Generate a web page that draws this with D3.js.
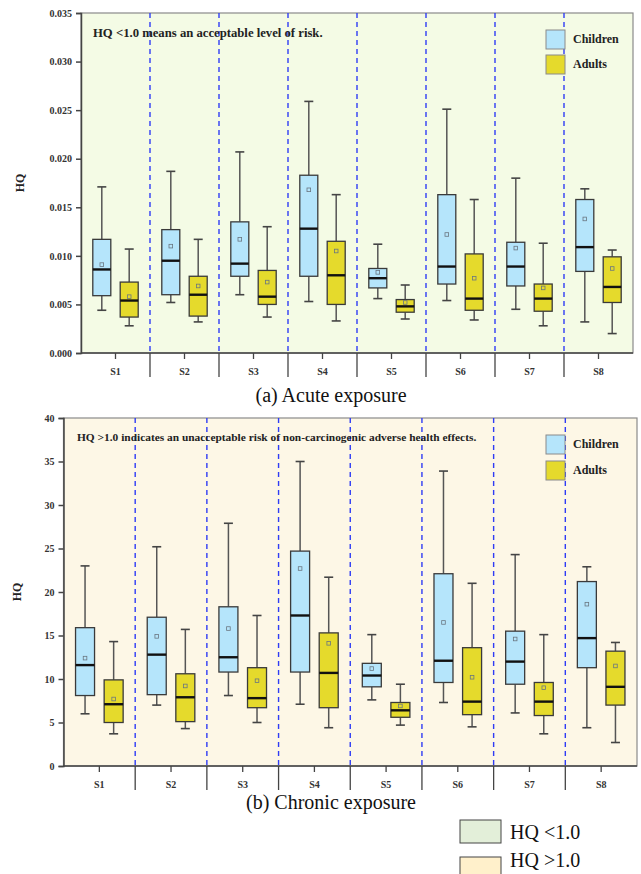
<!DOCTYPE html>
<html>
<head>
<meta charset="UTF-8" />
<title>HQ box plots</title>
<script src="https://d3js.org/d3.v7.min.js"></script>
<style>
  body { margin: 0; background: #fff; }
  svg text { font-family: "Liberation Serif", "Times New Roman", serif; }
</style>
</head>
<body>
<div id="chart"></div>
<script>
// ---------------- data ----------------
const sites = ["S1", "S2", "S3", "S4", "S5", "S6", "S7", "S8"];
const groups = ["Children", "Adults"];

// [whisker low, q1, median, q3, whisker high, mean]
const acuteChildren = [
  [0.0044, 0.0059, 0.0086, 0.0117, 0.0171, 0.0091],
  [0.0052, 0.0060, 0.0095, 0.0127, 0.0187, 0.0110],
  [0.0060, 0.0079, 0.0092, 0.0135, 0.0207, 0.0117],
  [0.0053, 0.0079, 0.0128, 0.0183, 0.0259, 0.0168],
  [0.0056, 0.0067, 0.0077, 0.0087, 0.0112, 0.0083],
  [0.0054, 0.0071, 0.0089, 0.0163, 0.0251, 0.0122],
  [0.0045, 0.0069, 0.0089, 0.0114, 0.0180, 0.0108],
  [0.0032, 0.0084, 0.0109, 0.0158, 0.0169, 0.0138]
];
const acuteAdults = [
  [0.0028, 0.0037, 0.0054, 0.0073, 0.0107, 0.0058],
  [0.0032, 0.0038, 0.0060, 0.0079, 0.0117, 0.0069],
  [0.0037, 0.0050, 0.0058, 0.0085, 0.0130, 0.0073],
  [0.0033, 0.0050, 0.0080, 0.0115, 0.0163, 0.0105],
  [0.0035, 0.0042, 0.0048, 0.0055, 0.0070, 0.0052],
  [0.0034, 0.0044, 0.0056, 0.0102, 0.0158, 0.0077],
  [0.0028, 0.0043, 0.0056, 0.0071, 0.0113, 0.0067],
  [0.0020, 0.0052, 0.0068, 0.0099, 0.0106, 0.0087]
];
const chronicChildren = [
  [6.0, 8.1, 11.6, 15.9, 23.0, 12.4],
  [7.0, 8.2, 12.8, 17.1, 25.2, 14.9],
  [8.1, 10.8, 12.5, 18.3, 27.9, 15.8],
  [7.1, 10.8, 17.3, 24.7, 35.0, 22.7],
  [7.6, 9.1, 10.4, 11.8, 15.1, 11.2],
  [7.3, 9.6, 12.1, 22.1, 33.9, 16.5],
  [6.1, 9.4, 12.0, 15.5, 24.3, 14.6],
  [4.4, 11.3, 14.7, 21.2, 22.9, 18.6]
];
const chronicAdults = [
  [3.7, 5.0, 7.1, 9.9, 14.3, 7.7],
  [4.3, 5.1, 7.9, 10.6, 15.7, 9.2],
  [5.0, 6.7, 7.8, 11.3, 17.3, 9.8],
  [4.4, 6.7, 10.7, 15.3, 21.7, 14.1],
  [4.7, 5.6, 6.4, 7.3, 9.4, 6.9],
  [4.5, 5.9, 7.4, 13.6, 21.0, 10.2],
  [3.7, 5.8, 7.4, 9.6, 15.1, 9.0],
  [2.7, 7.0, 9.1, 13.2, 14.2, 11.5]
];

const acuteTicks = [0, 0.005, 0.01, 0.015, 0.02, 0.025, 0.03, 0.035];
const chronicTicks = [0, 5, 10, 15, 20, 25, 30, 35, 40];
const bottomLegend = [
  { label: "HQ <1.0", fill: "#e3efd9" },
  { label: "HQ >1.0", fill: "#fff0cb" }
];

const groupColor = { Children: "#b5e5fb", Adults: "#e5da2c" };

// ---------------- drawing ----------------
const svg = d3.select("#chart").append("svg")
  .attr("width", 641).attr("height", 874);

function panel(cfg) {
  const g = svg.append("g");
  const x = d3.scaleBand().domain(sites).range([cfg.left, cfg.right]);
  const y = d3.scaleLinear().domain(cfg.domain).range([cfg.bottom, cfg.top]);

  g.append("rect")
    .attr("x", cfg.left).attr("y", cfg.top)
    .attr("width", cfg.right - cfg.left).attr("height", cfg.bottom - cfg.top)
    .attr("fill", cfg.bg).attr("stroke", "#8a8a8a").attr("stroke-width", 1.2);

  // dashed separators
  g.selectAll(".sep").data(sites.slice(1)).join("line")
    .attr("x1", (d) => x(d)).attr("x2", (d) => x(d))
    .attr("y1", cfg.top).attr("y2", cfg.bottom)
    .attr("stroke", "#2f3cf5").attr("stroke-width", 1.4)
    .attr("stroke-dasharray", "5,4");

  // title text in panel
  g.append("text")
    .attr("x", cfg.titleX).attr("y", cfg.titleY)
    .attr("font-size", cfg.titleSize).attr("font-weight", "bold")
    .attr("fill", "#222")
    .text(cfg.title);

  // y axis
  const yAxis = g.append("g")
    .attr("transform", `translate(${cfg.left},0)`)
    .call(d3.axisLeft(y).tickValues(cfg.ticks).tickFormat(cfg.fmt).tickSize(5).tickPadding(4));
  yAxis.select(".domain").attr("stroke", "#444").attr("stroke-width", 1.5);
  yAxis.selectAll(".tick line").attr("stroke", "#444").attr("stroke-width", 1.5);
  yAxis.selectAll("text").attr("font-size", 10).attr("font-weight", "bold")
    .attr("fill", "#333").style("font-family", "'Liberation Serif', serif");

  // x axis line
  g.append("line")
    .attr("x1", cfg.left).attr("x2", cfg.right)
    .attr("y1", cfg.bottom).attr("y2", cfg.bottom)
    .attr("stroke", "#444").attr("stroke-width", 1.5);
  g.selectAll(".ctick").data(sites).join("line")
    .attr("x1", (d) => x(d) + x.bandwidth() / 2).attr("x2", (d) => x(d) + x.bandwidth() / 2)
    .attr("y1", cfg.bottom).attr("y2", cfg.bottom + 6)
    .attr("stroke", "#444").attr("stroke-width", 1.3);
  g.selectAll(".btick").data(sites.slice(1)).join("line")
    .attr("x1", (d) => x(d)).attr("x2", (d) => x(d))
    .attr("y1", cfg.bottom).attr("y2", cfg.bottom + 24)
    .attr("stroke", "#444").attr("stroke-width", 1.3);
  g.selectAll(".xlab").data(sites).join("text")
    .attr("x", (d) => x(d) + x.bandwidth() / 2).attr("y", cfg.bottom + 22)
    .attr("text-anchor", "middle").attr("font-size", 10).attr("font-weight", "bold")
    .attr("fill", "#333").text((d) => d);

  // y label
  g.append("text")
    .attr("transform", `translate(${cfg.yLabelX},${(cfg.top + cfg.bottom) / 2}) rotate(-90)`)
    .attr("text-anchor", "middle").attr("font-size", 12).attr("font-weight", "bold")
    .attr("fill", "#222").text("HQ");

  // boxes
  const bw = cfg.boxW;
  const series = [
    { name: "Children", data: cfg.children, off: -cfg.offset },
    { name: "Adults", data: cfg.adults, off: cfg.offset }
  ];
  series.forEach((s) => {
    s.data.forEach((v, i) => {
      const cx = x(sites[i]) + x.bandwidth() / 2 + s.off;
      const [lo, q1, med, q3, hi, mean] = v;
      const bg = g.append("g");
      bg.append("line").attr("x1", cx).attr("x2", cx).attr("y1", y(hi)).attr("y2", y(q3))
        .attr("stroke", "#555").attr("stroke-width", 1.5);
      bg.append("line").attr("x1", cx).attr("x2", cx).attr("y1", y(q1)).attr("y2", y(lo))
        .attr("stroke", "#555").attr("stroke-width", 1.5);
      [hi, lo].forEach((w) => {
        bg.append("line").attr("x1", cx - 4.5).attr("x2", cx + 4.5).attr("y1", y(w)).attr("y2", y(w))
          .attr("stroke", "#444").attr("stroke-width", 1.6);
      });
      bg.append("rect")
        .attr("x", cx - bw / 2).attr("y", y(q3))
        .attr("width", bw).attr("height", y(q1) - y(q3))
        .attr("fill", groupColor[s.name]).attr("stroke", "#3a3a3a").attr("stroke-width", 1.3);
      bg.append("line").attr("x1", cx - bw / 2).attr("x2", cx + bw / 2)
        .attr("y1", y(med)).attr("y2", y(med))
        .attr("stroke", "#111").attr("stroke-width", 2.4);
      bg.append("rect")
        .attr("x", cx - 1.8).attr("y", y(mean) - 1.8)
        .attr("width", 3.6).attr("height", 3.6)
        .attr("fill", "none").attr("stroke", "#6a7680").attr("stroke-width", 0.8);
    });
  });

  // legend (Children / Adults)
  groups.forEach((name, i) => {
    const ly = cfg.legendY + i * cfg.legendStep;
    g.append("rect")
      .attr("x", cfg.legendX).attr("y", ly)
      .attr("width", 19).attr("height", 19)
      .attr("fill", groupColor[name]).attr("stroke", "#8a8a8a").attr("stroke-width", 1);
    g.append("text")
      .attr("x", cfg.legendX + 27).attr("y", ly + 9).attr("dy", "0.35em")
      .attr("font-size", 12).attr("font-weight", "bold").attr("fill", "#222")
      .text(name);
  });

  // caption
  svg.append("text")
    .attr("x", 331).attr("y", cfg.captionY)
    .attr("text-anchor", "middle").attr("font-size", 20).attr("fill", "#111")
    .text(cfg.caption);
}

panel({
  left: 81, right: 633, top: 13, bottom: 353,
  domain: [0, 0.035], ticks: acuteTicks, fmt: d3.format(".3f"),
  bg: "#f4fbe5",
  title: "HQ <1.0 means an acceptable level of risk.",
  titleX: 93, titleY: 37, titleSize: 12.7,
  children: acuteChildren, adults: acuteAdults,
  boxW: 18, offset: 13.7,
  legendX: 546, legendY: 30, legendStep: 25,
  yLabelX: 24, caption: "(a) Acute exposure", captionY: 402
});

panel({
  left: 63.5, right: 637, top: 418, bottom: 766,
  domain: [0, 40], ticks: chronicTicks, fmt: d3.format("d"),
  bg: "#fdf7e6",
  title: "HQ >1.0  indicates an unacceptable risk of non-carcinogenic adverse health effects.",
  titleX: 77, titleY: 440.5, titleSize: 11.4,
  children: chronicChildren, adults: chronicAdults,
  boxW: 19, offset: 14.3,
  legendX: 546, legendY: 435, legendStep: 26,
  yLabelX: 21, caption: "(b) Chronic exposure", captionY: 809
});

// bottom legend
bottomLegend.forEach((d, i) => {
  const ly = 820 + i * 37;
  svg.append("rect")
    .attr("x", 460).attr("y", ly).attr("width", 41).attr("height", 23)
    .attr("fill", d.fill).attr("stroke", "#444").attr("stroke-width", 1);
  svg.append("text")
    .attr("x", 510).attr("y", Math.min(ly + 18.5, 867))
    .attr("font-size", 20).attr("fill", "#111").text(d.label);
});
</script>
</body>
</html>
